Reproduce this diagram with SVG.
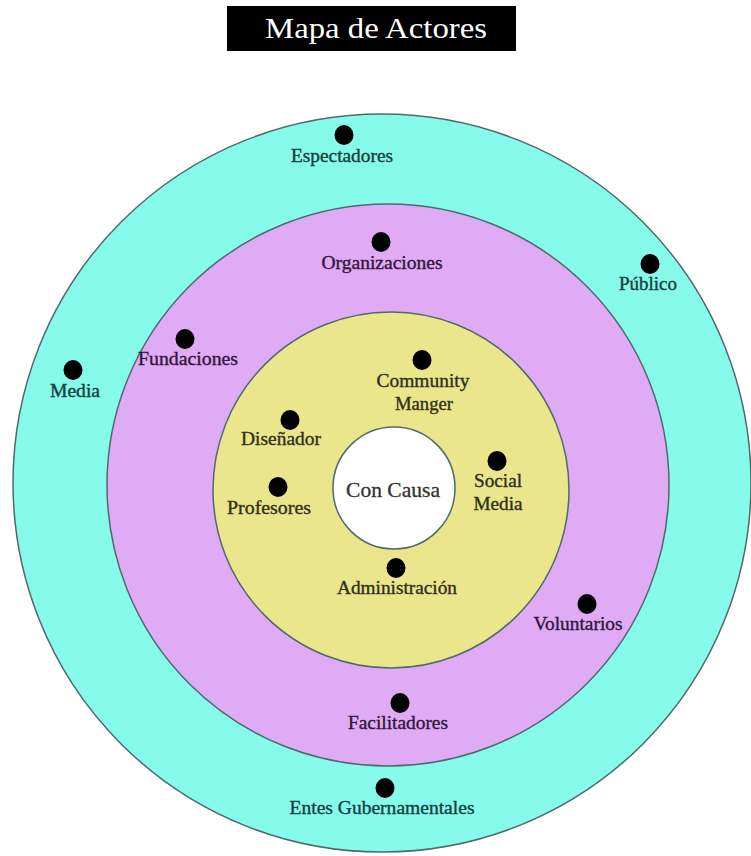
<svg xmlns="http://www.w3.org/2000/svg" width="751" height="856" viewBox="0 0 751 856">
  <style>
    .ring { stroke: #4f6a6c; stroke-width: 1.5; }
    .dot { fill: #000; }
    .lbl { font-family: "Liberation Serif", "Times New Roman", serif; font-size: 18px; text-anchor: middle; stroke-width: 0.35; }
    .c1 { fill: #143e3e; stroke: #143e3e; }
    .c2 { fill: #31163c; stroke: #31163c; }
    .c3 { fill: #30301a; stroke: #30301a; }
  </style>
  <rect width="751" height="856" fill="#ffffff"/>

  <!-- title banner -->
  <g id="title">
    <rect x="227" y="6" width="289" height="45" fill="#000"/>
    <text x="376" y="38" font-family="Liberation Serif, 'Times New Roman', serif" font-size="30" fill="#fff" text-anchor="middle" textLength="222" lengthAdjust="spacingAndGlyphs">Mapa de Actores</text>
  </g>

  <!-- concentric rings -->
  <g id="rings">
    <circle class="ring" cx="382" cy="483" r="369" fill="#86fbeb"/>
    <circle class="ring" cx="388" cy="485" r="281" fill="#dfabf4"/>
    <circle class="ring" cx="391" cy="490" r="178" fill="#ebe68c"/>
    <circle class="ring" cx="394" cy="488" r="61" fill="#ffffff"/>
  </g>

  <g id="con-causa">
    <text x="393" y="497" font-family="Liberation Serif, 'Times New Roman', serif" font-size="21" fill="#333" stroke="#333" stroke-width="0.3" text-anchor="middle" textLength="94" lengthAdjust="spacingAndGlyphs">Con Causa</text>
  </g>

  <!-- outer ring actors -->
  <g id="espectadores">
    <ellipse class="dot" cx="344" cy="135" rx="9.5" ry="10"/>
    <text class="lbl c1" x="342" y="162" textLength="102" lengthAdjust="spacingAndGlyphs">Espectadores</text>
  </g>
  <g id="publico">
    <ellipse class="dot" cx="650" cy="264" rx="9.5" ry="10"/>
    <text class="lbl c1" x="648" y="290" textLength="58" lengthAdjust="spacingAndGlyphs">Público</text>
  </g>
  <g id="media">
    <ellipse class="dot" cx="73" cy="370" rx="9.5" ry="10"/>
    <text class="lbl c1" x="75" y="397" textLength="50" lengthAdjust="spacingAndGlyphs">Media</text>
  </g>
  <g id="entes-gubernamentales">
    <ellipse class="dot" cx="385" cy="788" rx="9.5" ry="10"/>
    <text class="lbl c1" x="382" y="814" textLength="185" lengthAdjust="spacingAndGlyphs">Entes Gubernamentales</text>
  </g>

  <!-- middle ring actors -->
  <g id="organizaciones">
    <ellipse class="dot" cx="381" cy="242" rx="9.5" ry="10"/>
    <text class="lbl c2" x="382" y="269" textLength="121" lengthAdjust="spacingAndGlyphs">Organizaciones</text>
  </g>
  <g id="fundaciones">
    <ellipse class="dot" cx="185" cy="339" rx="9.5" ry="10"/>
    <text class="lbl c2" x="188" y="365" textLength="100" lengthAdjust="spacingAndGlyphs">Fundaciones</text>
  </g>
  <g id="voluntarios">
    <ellipse class="dot" cx="587" cy="604" rx="9.5" ry="10"/>
    <text class="lbl c2" x="578" y="630" textLength="89" lengthAdjust="spacingAndGlyphs">Voluntarios</text>
  </g>
  <g id="facilitadores">
    <ellipse class="dot" cx="400" cy="703" rx="9.5" ry="10"/>
    <text class="lbl c2" x="398" y="729" textLength="100" lengthAdjust="spacingAndGlyphs">Facilitadores</text>
  </g>

  <!-- inner ring actors -->
  <g id="community-manger">
    <ellipse class="dot" cx="422" cy="360" rx="9.5" ry="10"/>
    <text class="lbl c3" x="423" y="387" textLength="93" lengthAdjust="spacingAndGlyphs">Community</text>
    <text class="lbl c3" x="424" y="410" textLength="58" lengthAdjust="spacingAndGlyphs">Manger</text>
  </g>
  <g id="disenador">
    <ellipse class="dot" cx="290" cy="420" rx="9.5" ry="10"/>
    <text class="lbl c3" x="281" y="445" textLength="80" lengthAdjust="spacingAndGlyphs">Diseñador</text>
  </g>
  <g id="profesores">
    <ellipse class="dot" cx="278" cy="487" rx="9.5" ry="10"/>
    <text class="lbl c3" x="269" y="514" textLength="84" lengthAdjust="spacingAndGlyphs">Profesores</text>
  </g>
  <g id="social-media">
    <ellipse class="dot" cx="497" cy="461" rx="9.5" ry="10"/>
    <text class="lbl c3" x="498" y="487" textLength="48" lengthAdjust="spacingAndGlyphs">Social</text>
    <text class="lbl c3" x="498" y="510" textLength="49" lengthAdjust="spacingAndGlyphs">Media</text>
  </g>
  <g id="administracion">
    <ellipse class="dot" cx="396" cy="568" rx="9.5" ry="10"/>
    <text class="lbl c3" x="397" y="594" textLength="120" lengthAdjust="spacingAndGlyphs">Administración</text>
  </g>
</svg>
